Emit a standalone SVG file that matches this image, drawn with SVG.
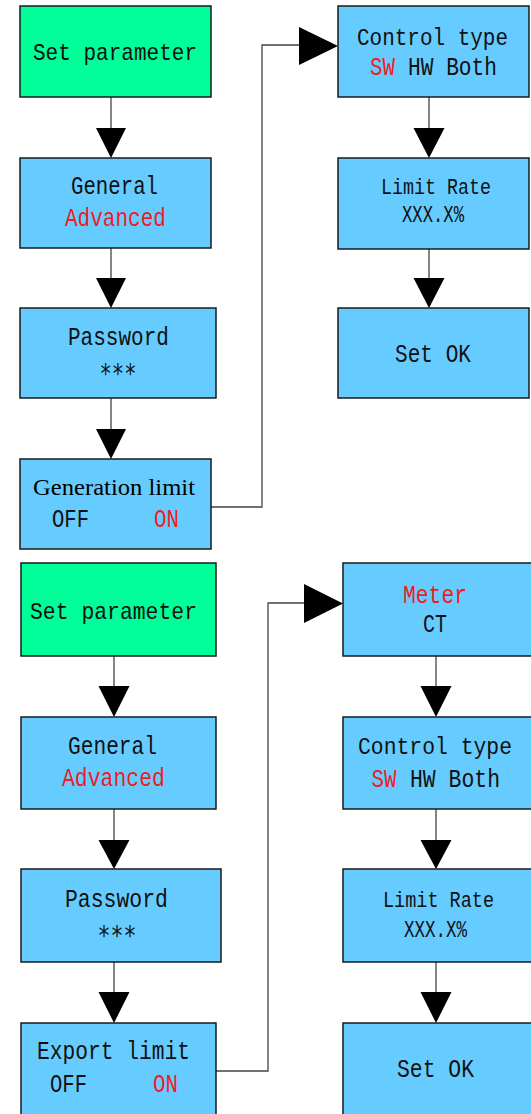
<svg xmlns="http://www.w3.org/2000/svg" width="531" height="1114" viewBox="0 0 531 1114">
<style>
.bx{fill:#66CCFF;stroke:#1a1a1a;stroke-width:1.5}
.gr{fill:#00FF99;stroke:#1a1a1a;stroke-width:1.5}
.t{font-family:"Liberation Mono","DejaVu Sans Mono",monospace;font-size:26px;fill:#111;text-anchor:middle}
.w{font-size:24px}
.s{font-family:"Liberation Mono","DejaVu Sans Mono",monospace;font-size:22px;fill:#111;text-anchor:middle}
.x{font-family:"Liberation Mono","DejaVu Sans Mono",monospace;font-size:23px;fill:#111;text-anchor:middle}
.a{font-family:"DejaVu Sans Mono","Liberation Mono",monospace;font-size:27px;fill:#111;text-anchor:middle}
.ts{font-family:"Liberation Mono","DejaVu Sans Mono",monospace;font-size:26px;fill:#111}
.sf{font-family:"Liberation Serif","Times New Roman",serif;font-size:24px;fill:#000;text-anchor:middle}
.r{fill:#EE1C24}
.ln{fill:none;stroke:#444;stroke-width:1.3}
.ah{fill:#000}
</style>
<g id="connectors">
<line class="ln" x1="111" y1="97" x2="111" y2="130"/><polygon class="ah" points="96,128 126,128 111,158"/>
<line class="ln" x1="111" y1="248" x2="111" y2="280"/><polygon class="ah" points="96,278 126,278 111,308"/>
<line class="ln" x1="111" y1="398" x2="111" y2="431"/><polygon class="ah" points="96,429 126,429 111,459"/>
<polyline class="ln" points="211,507 262,507 262,45 300,45"/><polygon class="ah" points="299,27 299,65 338,46"/>
<line class="ln" x1="429" y1="97" x2="429" y2="130"/><polygon class="ah" points="413.5,128 444.5,128 429,158"/>
<line class="ln" x1="429" y1="249" x2="429" y2="280"/><polygon class="ah" points="413.5,278 444.5,278 429,308"/>
<line class="ln" x1="114" y1="656" x2="114" y2="688"/><polygon class="ah" points="98.5,686 129.5,686 114,717"/>
<line class="ln" x1="114" y1="809" x2="114" y2="842"/><polygon class="ah" points="98.5,840 129.5,840 114,869"/>
<line class="ln" x1="114" y1="962" x2="114" y2="994"/><polygon class="ah" points="98.5,992 129.5,992 114,1023"/>
<polyline class="ln" points="216,1071 268,1071 268,603 305,603"/><polygon class="ah" points="304,584 304,623 343,603.5"/>
<line class="ln" x1="436" y1="656" x2="436" y2="688"/><polygon class="ah" points="420.5,686 451.5,686 436,717"/>
<line class="ln" x1="436" y1="809" x2="436" y2="842"/><polygon class="ah" points="420.5,840 451.5,840 436,869"/>
<line class="ln" x1="436" y1="962" x2="436" y2="994"/><polygon class="ah" points="420.5,992 451.5,992 436,1023"/>
</g>
<g id="set-param-1"><rect class="gr" x="20" y="6" width="191" height="91"/><text class="t w" x="115" y="60" textLength="164" lengthAdjust="spacingAndGlyphs">Set parameter</text></g>
<g id="general-1"><rect class="bx" x="20" y="158" width="191" height="90"/><text class="t" x="114.5" y="194" textLength="87" lengthAdjust="spacingAndGlyphs">General</text><text class="t r" x="115.5" y="226" textLength="101" lengthAdjust="spacingAndGlyphs">Advanced</text></g>
<g id="password-1"><rect class="bx" x="20" y="308" width="196" height="90"/><text class="t" x="118.5" y="345" textLength="101" lengthAdjust="spacingAndGlyphs">Password</text><text class="a" x="118" y="383" textLength="37" lengthAdjust="spacingAndGlyphs">***</text></g>
<g id="generation-limit"><rect class="bx" x="20" y="459" width="191" height="90"/><text class="sf" x="114" y="495" textLength="162" lengthAdjust="spacingAndGlyphs">Generation limit</text><text class="t" x="70.5" y="527" textLength="37" lengthAdjust="spacingAndGlyphs">OFF</text><text class="t r" x="166.5" y="527" textLength="25" lengthAdjust="spacingAndGlyphs">ON</text></g>
<g id="control-type-1"><rect class="bx" x="338" y="6" width="191" height="91"/><text class="t w" x="432.5" y="45" textLength="151" lengthAdjust="spacingAndGlyphs">Control type</text><text class="ts r" x="370" y="75" textLength="25" lengthAdjust="spacingAndGlyphs">SW</text><text class="ts" x="408" y="75" textLength="89" lengthAdjust="spacingAndGlyphs">HW Both</text></g>
<g id="limit-rate-1"><rect class="bx" x="338" y="158" width="191" height="91"/><text class="s" x="436" y="194" textLength="110" lengthAdjust="spacingAndGlyphs">Limit Rate</text><text class="x" x="433" y="222" textLength="62" lengthAdjust="spacingAndGlyphs">XXX.X%</text></g>
<g id="set-ok-1"><rect class="bx" x="338" y="308" width="191" height="90"/><text class="t" x="433" y="362" textLength="76" lengthAdjust="spacingAndGlyphs">Set OK</text></g>
<g id="set-param-2"><rect class="gr" x="21" y="563" width="195" height="93"/><text class="t w" x="113.5" y="619" textLength="167" lengthAdjust="spacingAndGlyphs">Set parameter</text></g>
<g id="general-2"><rect class="bx" x="21" y="717" width="195" height="92"/><text class="t" x="112.5" y="754" textLength="89" lengthAdjust="spacingAndGlyphs">General</text><text class="t r" x="113.5" y="786" textLength="103" lengthAdjust="spacingAndGlyphs">Advanced</text></g>
<g id="password-2"><rect class="bx" x="21" y="869" width="200" height="93"/><text class="t" x="116.5" y="907" textLength="103" lengthAdjust="spacingAndGlyphs">Password</text><text class="a" x="117" y="945" textLength="39" lengthAdjust="spacingAndGlyphs">***</text></g>
<g id="export-limit"><rect class="bx" x="21" y="1023" width="195" height="93"/><text class="t" x="113.5" y="1059" textLength="153" lengthAdjust="spacingAndGlyphs">Export limit</text><text class="t" x="68.5" y="1092" textLength="37" lengthAdjust="spacingAndGlyphs">OFF</text><text class="t r" x="165.5" y="1092" textLength="25" lengthAdjust="spacingAndGlyphs">ON</text></g>
<g id="meter"><rect class="bx" x="343" y="563" width="195" height="93"/><text class="t r" x="435" y="603" textLength="64" lengthAdjust="spacingAndGlyphs">Meter</text><text class="t" x="435" y="632" textLength="24" lengthAdjust="spacingAndGlyphs">CT</text></g>
<g id="control-type-2"><rect class="bx" x="343" y="717" width="195" height="92"/><text class="t w" x="435" y="754" textLength="154" lengthAdjust="spacingAndGlyphs">Control type</text><text class="ts r" x="371.5" y="787" textLength="25" lengthAdjust="spacingAndGlyphs">SW</text><text class="ts" x="410" y="787" textLength="90" lengthAdjust="spacingAndGlyphs">HW Both</text></g>
<g id="limit-rate-2"><rect class="bx" x="343" y="869" width="195" height="93"/><text class="s" x="438.5" y="907" textLength="111" lengthAdjust="spacingAndGlyphs">Limit Rate</text><text class="x" x="435.5" y="937" textLength="63" lengthAdjust="spacingAndGlyphs">XXX.X%</text></g>
<g id="set-ok-2"><rect class="bx" x="343" y="1023" width="195" height="93"/><text class="t" x="435.5" y="1077" textLength="77" lengthAdjust="spacingAndGlyphs">Set OK</text></g>
</svg>
